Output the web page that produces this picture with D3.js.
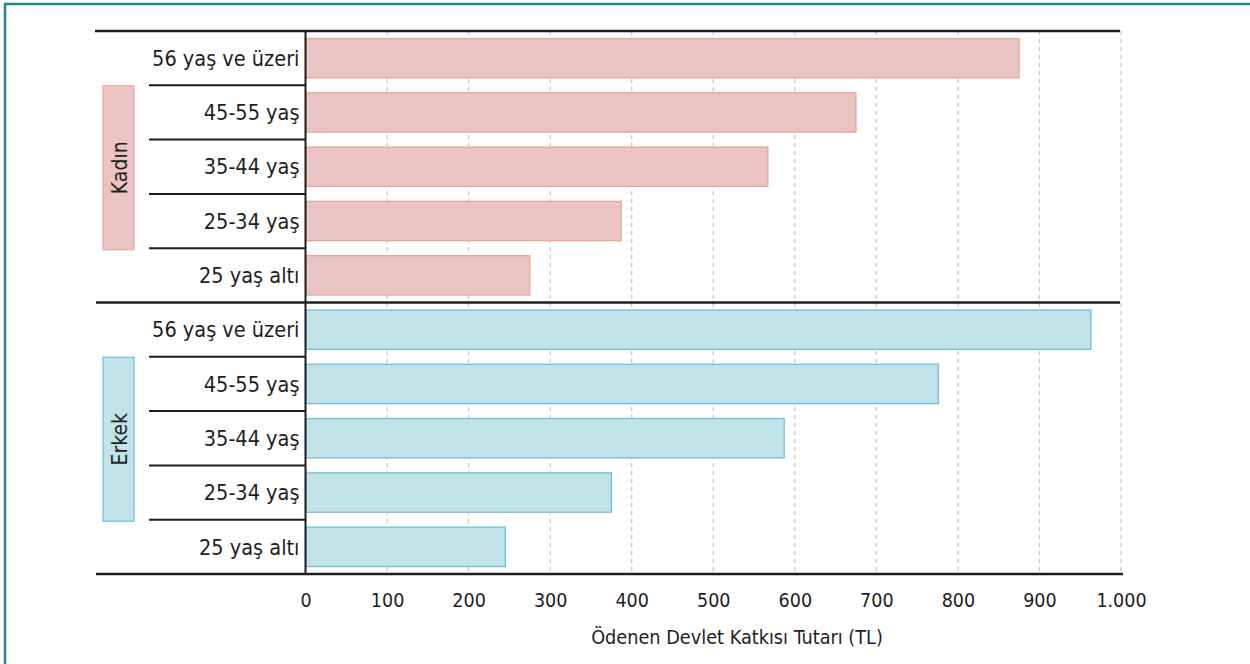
<!DOCTYPE html>
<html>
<head>
<meta charset="utf-8">
<script src="https://cdn.jsdelivr.net/npm/d3@7"></script>
<style>
  html, body { margin: 0; padding: 0; background: #fff; }
  svg { display: block; }
  text { font-family: "DejaVu Sans Condensed", "DejaVu Sans", sans-serif; font-stretch: condensed; fill: #1e1e1e; }
</style>
</head>
<body>
<svg id="chart" width="1250" height="664"></svg>
<script>
// ---- data ----
const groups = ["Kadın", "Erkek"];
const categories = ["56 yaş ve üzeri", "45-55 yaş", "35-44 yaş", "25-34 yaş", "25 yaş altı"];
const kadinValues = [875, 675, 567, 387, 275];
const erkekValues = [963, 776, 587, 375, 245];
const tickValues = [0, 100, 200, 300, 400, 500, 600, 700, 800, 900, 1000];
const axisTitle = "Ödenen Devlet Katkısı Tutarı (TL)";

const seriesValues = { "Kadın": kadinValues, "Erkek": erkekValues };
const groupStyle = {
  "Kadın": { fill: "#eac4c3", stroke: "#eea494" },
  "Erkek": { fill: "#c1e2e6", stroke: "#6cbfe1" }
};

const svg = d3.select("#chart");

// frame (top + left teal border)
svg.append("line").attr("x1", 4).attr("x2", 1250).attr("y1", 4).attr("y2", 4)
  .attr("stroke", "#1b8b93").attr("stroke-width", 2.5);
svg.append("line").attr("x1", 5).attr("x2", 5).attr("y1", 3).attr("y2", 664)
  .attr("stroke", "#1b8b93").attr("stroke-width", 2.5);

const plotTop = 31, plotBottom = 574;
const x = d3.scaleLinear().domain([0, 1000]).range([305.5, 1121]);
const gScale = d3.scaleBand().domain(groups).range([plotTop, plotBottom]);

const locale = d3.formatLocale({ decimal: ",", thousands: ".", grouping: [3], currency: ["", "TL"] });
const fmt = locale.format(",d");

// gridlines
svg.append("g").selectAll("line").data(tickValues.filter(d => d > 0)).join("line")
  .attr("x1", d => x(d)).attr("x2", d => x(d))
  .attr("y1", plotTop).attr("y2", plotBottom)
  .attr("stroke", "#c9c9c9").attr("stroke-width", 1.4)
  .attr("stroke-dasharray", "4,4");

// groups
groups.forEach((g, gi) => {
  const y0 = gScale(g);
  const rows = d3.scaleBand().domain(categories).range([y0, y0 + gScale.bandwidth()]);
  const bh = rows.bandwidth() * 0.725;
  const vals = seriesValues[g];
  const st = groupStyle[g];

  // bars
  svg.append("g").selectAll("rect").data(categories).join("rect")
    .attr("x", x(0))
    .attr("y", d => rows(d) + (rows.bandwidth() - bh) / 2)
    .attr("width", (d, i) => x(vals[i]) - x(0))
    .attr("height", bh)
    .attr("fill", st.fill).attr("stroke", st.stroke).attr("stroke-width", 1.3);

  // category labels
  svg.append("g").selectAll("text").data(categories).join("text")
    .attr("x", 299.5)
    .attr("y", d => rows(d) + rows.bandwidth() / 2)
    .attr("dy", "0.36em")
    .attr("text-anchor", "end")
    .attr("font-size", 21.5)
    .text(d => d);

  // row separators
  svg.append("g").selectAll("line").data(categories.slice(1)).join("line")
    .attr("x1", 149).attr("x2", 306)
    .attr("y1", d => rows(d)).attr("y2", d => rows(d))
    .attr("stroke", "#1e1e1e").attr("stroke-width", 2);

  // group label box
  const cy = y0 + gScale.bandwidth() / 2 + 1;
  svg.append("rect")
    .attr("x", 103).attr("y", cy - 82).attr("width", 31).attr("height", 164)
    .attr("fill", st.fill).attr("stroke", st.stroke).attr("stroke-width", 1.2);
  svg.append("text")
    .attr("transform", `translate(119,${cy}) rotate(-90)`)
    .attr("text-anchor", "middle").attr("dy", "0.36em")
    .attr("font-size", 21)
    .text(g);
});

// group separator lines
svg.append("line").attr("x1", 95).attr("x2", 1120).attr("y1", plotTop).attr("y2", plotTop)
  .attr("stroke", "#1e1e1e").attr("stroke-width", 2.5);
svg.append("line").attr("x1", 96).attr("x2", 1120).attr("y1", gScale("Erkek")).attr("y2", gScale("Erkek"))
  .attr("stroke", "#1e1e1e").attr("stroke-width", 2.5);
svg.append("line").attr("x1", 96).attr("x2", 1123).attr("y1", plotBottom).attr("y2", plotBottom)
  .attr("stroke", "#1e1e1e").attr("stroke-width", 2.5);
// value axis line
svg.append("line").attr("x1", x(0)).attr("x2", x(0)).attr("y1", plotTop).attr("y2", plotBottom)
  .attr("stroke", "#1e1e1e").attr("stroke-width", 2);

// x axis
const xAxis = d3.axisBottom(x).tickValues(tickValues).tickFormat(fmt).tickSize(0).tickPadding(0);
const ax = svg.append("g").attr("transform", `translate(0,${plotBottom})`).call(xAxis);
ax.select(".domain").remove();
ax.selectAll("text").attr("font-size", 19.5).attr("y", 26).attr("dy", "0.36em")
  .style("font-family", "'DejaVu Sans Condensed', 'DejaVu Sans', sans-serif").attr("fill", "#1e1e1e");

// axis title
svg.append("text").attr("x", 737).attr("y", 644).attr("text-anchor", "middle")
  .attr("font-size", 19.7).text(axisTitle);
</script>
</body>
</html>
